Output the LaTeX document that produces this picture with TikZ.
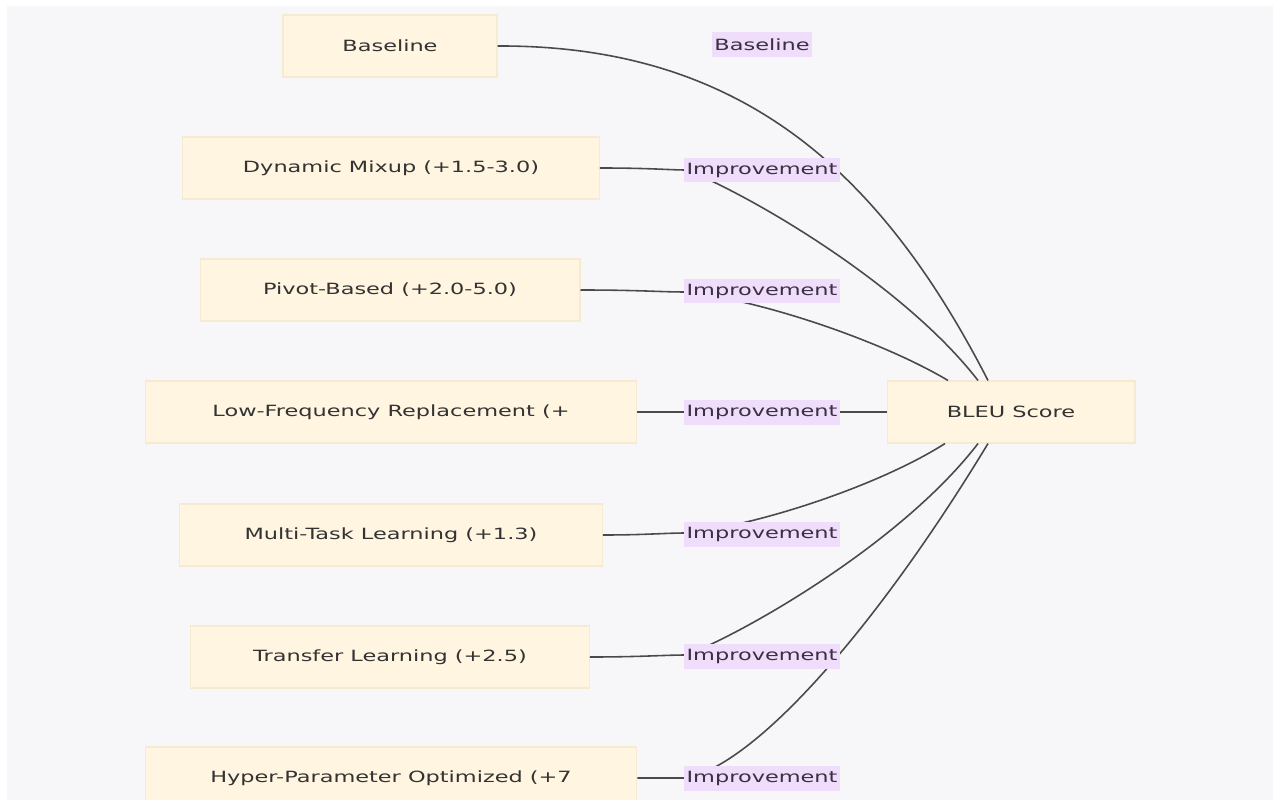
\documentclass[tikz,border=0pt]{standalone}
\usepackage{fontspec}
\setmainfont{DejaVu Sans}[FakeStretch=1.45]
\begin{document}
\begin{tikzpicture}[x=0.02cm,y=-0.02cm,
  box/.style={draw=boxline,fill=boxfill,line width=0.6pt,minimum height=1.24cm,inner sep=0pt,text=txt,font=\fontsize{8.8}{10}\selectfont},
  lbl/.style={fill=lblfill,inner xsep=1.5pt,inner ysep=0pt,minimum height=0.5cm,text=lbltxt,font=\fontsize{8.8}{10}\selectfont},
  edge/.style={draw=edgecol,line width=0.9pt}]
\definecolor{bg}{HTML}{F7F7FA}
\definecolor{boxfill}{HTML}{FFF5E0}
\definecolor{boxline}{HTML}{F6EBD2}
\definecolor{lblfill}{HTML}{EFDDFB}
\definecolor{txt}{HTML}{333333}
\definecolor{lbltxt}{HTML}{3A3042}
\definecolor{edgecol}{HTML}{4A4A4A}
\useasboundingbox (0,0) rectangle (1273,800);
\clip (0,0) rectangle (1273,800);
\fill[white] (0,0) rectangle (1273,800);
\fill[bg] (7,6) rectangle (1273,800);
% boxes
\node[box,minimum width=4.28cm] (bl) at (390,46) {Baseline};
\node[box,minimum width=8.34cm] (dm) at (391,168) {Dynamic Mixup (+1.5-3.0)};
\node[box,minimum width=7.6cm] (pv) at (390,290) {Pivot-Based (+2.0-5.0)};
\node[box,minimum width=9.84cm] (lf) at (391,412) {Low-Frequency Replacement (+};
\node[box,minimum width=8.46cm] (mt) at (391,535) {Multi-Task Learning (+1.3)};
\node[box,minimum width=7.98cm] (tl) at (390,657) {Transfer Learning (+2.5)};
\node[box,minimum width=9.84cm] (hp) at (391,778) {Hyper-Parameter Optimized (+7};
\node[box,minimum width=4.96cm] (bleu) at (1011,412) {BLEU Score};
% edges
\draw[edge] (bl.east) .. controls (740,45) and (880,170) .. ([xshift=-0.46cm]bleu.north);
\draw[edge] (dm.east) .. controls (650,168) and (670,170) .. (686,170)
  .. controls (740,190) and (900,280) .. ([xshift=-0.66cm]bleu.north);
\draw[edge] (pv.east) .. controls (640,290) and (660,292) .. (686,292)
  .. controls (760,300) and (880,340) .. ([xshift=-1.26cm]bleu.north);
\draw[edge] (lf.east) -- (bleu.west);
\draw[edge] (mt.east) .. controls (645,535) and (665,533) .. (686,533)
  .. controls (760,525) and (880,485) .. ([xshift=-1.32cm]bleu.south);
\draw[edge] (tl.east) .. controls (640,657) and (665,655) .. (686,655)
  .. controls (740,635) and (900,545) .. ([xshift=-0.66cm]bleu.south);
\draw[edge] (hp.east) -- (686,778)
  .. controls (755,765) and (875,630) .. ([xshift=-0.46cm]bleu.south);
% labels
\node[lbl] (l1) at (762,45) {Baseline};
\node[lbl] (l2) at (762,170) {Improvement};
\node[lbl] (l3) at (762,291) {Improvement};
\node[lbl] (l4) at (762,412) {Improvement};
\node[lbl] (l5) at (762,534) {Improvement};
\node[lbl] (l6) at (762,656) {Improvement};
\node[lbl] (l7) at (762,778) {Improvement};
\end{tikzpicture}
\end{document}
